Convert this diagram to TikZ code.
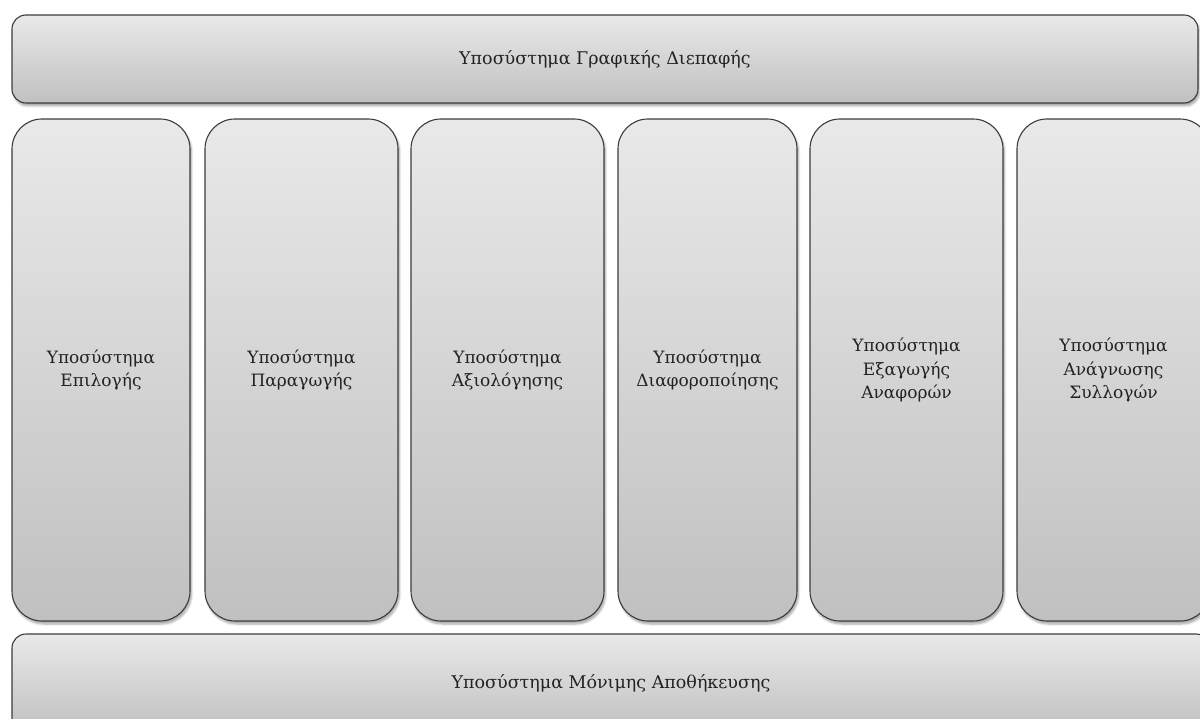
\documentclass[tikz,border=0pt]{standalone}
\usepackage{fontspec}
\setmainfont{DejaVu Serif}
\usetikzlibrary{shadows.blur}
\definecolor{edgecol}{HTML}{3C3C3C}
\definecolor{textcol}{HTML}{222222}
\definecolor{shadelight}{HTML}{E9E9E9}
\definecolor{shadedark}{HTML}{C0C0C0}
\begin{document}
\begin{tikzpicture}[x=1pt,y=-1pt,
  panel/.style={draw=edgecol, line width=1.1pt,
    top color=shadelight, bottom color=shadedark,
    blur shadow={shadow xshift=1.5pt, shadow yshift=-3pt, shadow blur steps=6, shadow opacity=35},
    text=textcol, align=center, inner sep=0pt,
    font=\fontsize{17}{23.5}\selectfont},
  bar/.style={panel, rounded corners=14pt, minimum height=88pt},
  column/.style={panel, rounded corners=30pt, minimum height=502pt}]
\useasboundingbox (0,0) rectangle (1200,719);

% graphical interface layer
\node[bar, minimum width=1186pt, font=\fontsize{17.5}{23.5}\selectfont] (gui) at (605,59) {Υποσύστημα Γραφικής Διεπαφής};

% functional subsystems
\node[column, minimum width=178pt] (sel) at (101,370) {Υποσύστημα\\Επιλογής};
\node[column, minimum width=193pt] (gen) at (301.5,370) {Υποσύστημα\\Παραγωγής};
\node[column, minimum width=193pt] (eval) at (507.5,370) {Υποσύστημα\\Αξιολόγησης};
\node[column, minimum width=179pt] (diff) at (707.5,370) {Υποσύστημα\\Διαφοροποίησης};
\node[column, minimum width=193pt] (rep) at (906.5,370) {Υποσύστημα\\Εξαγωγής\\Αναφορών};
\node[column, minimum width=193pt] (coll) at (1113.5,370) {Υποσύστημα\\Ανάγνωσης\\Συλλογών};

% persistent storage layer
\node[bar, minimum width=1198pt, minimum height=98pt, font=\fontsize{17.5}{23.5}\selectfont] (store) at (611,683) {Υποσύστημα Μόνιμης Αποθήκευσης};
\end{tikzpicture}
\end{document}
